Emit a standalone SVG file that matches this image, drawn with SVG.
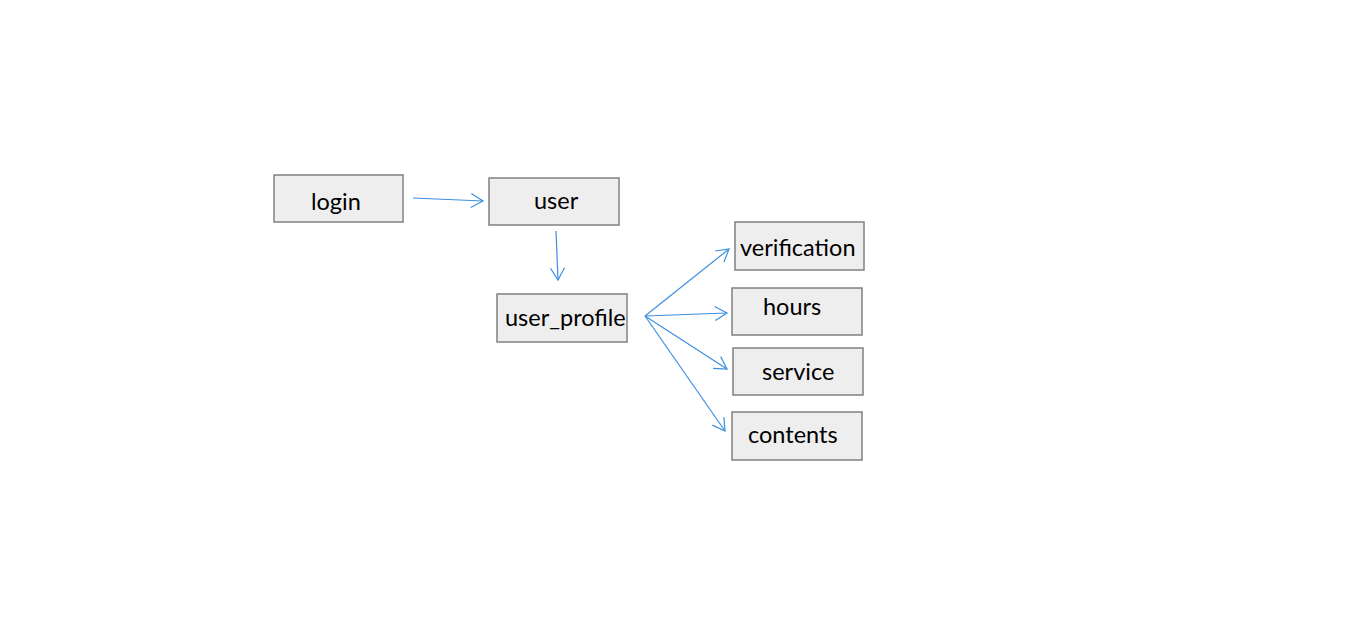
<svg xmlns="http://www.w3.org/2000/svg" width="1366" height="636" viewBox="0 0 1366 636">
<style>
.box{fill:#eeeeee;stroke:#808080;stroke-width:1.5}
.lbl{font-family:Lato,"Liberation Sans",sans-serif;font-size:23.5px;fill:#000}
.con{stroke:#3d8fe0;stroke-width:1.2;fill:none;marker-end:url(#ah)}
</style>
<defs>
<marker id="ah" markerUnits="userSpaceOnUse" markerWidth="24" markerHeight="24" viewBox="-14 -12 24 24" refX="0" refY="0" orient="auto" overflow="visible">
<path d="M-12,-7 L0,0 L-12,7" fill="none" stroke="#3d8fe0" stroke-width="1.2"/>
</marker>
</defs>
<rect width="1366" height="636" fill="#fff"/>
<g id="login"><rect class="box" x="274" y="175" width="129" height="47"/><text class="lbl" x="311" y="210">login</text></g>
<g id="user"><rect class="box" x="489" y="178" width="130" height="47"/><text class="lbl" x="534" y="209">user</text></g>
<g id="user_profile"><rect class="box" x="497" y="294" width="130" height="48"/><text class="lbl" x="505" y="326">user_profile</text></g>
<g id="verification"><rect class="box" x="735" y="222" width="129" height="48"/><text class="lbl" x="740" y="256">verification</text></g>
<g id="hours"><rect class="box" x="732" y="288" width="130" height="47"/><text class="lbl" x="763" y="315">hours</text></g>
<g id="service"><rect class="box" x="733" y="348" width="130" height="47"/><text class="lbl" x="762" y="380">service</text></g>
<g id="contents"><rect class="box" x="732" y="412" width="130" height="48"/><text class="lbl" x="748" y="443">contents</text></g>
<g id="connectors">
<line class="con" x1="413" y1="198" x2="483" y2="201"/>
<line class="con" x1="556" y1="231" x2="558" y2="280"/>
<line class="con" x1="645" y1="316" x2="729" y2="249"/>
<line class="con" x1="645" y1="316" x2="727" y2="313"/>
<line class="con" x1="645" y1="316" x2="727" y2="369"/>
<line class="con" x1="645" y1="316" x2="725" y2="431"/>
</g>
</svg>
